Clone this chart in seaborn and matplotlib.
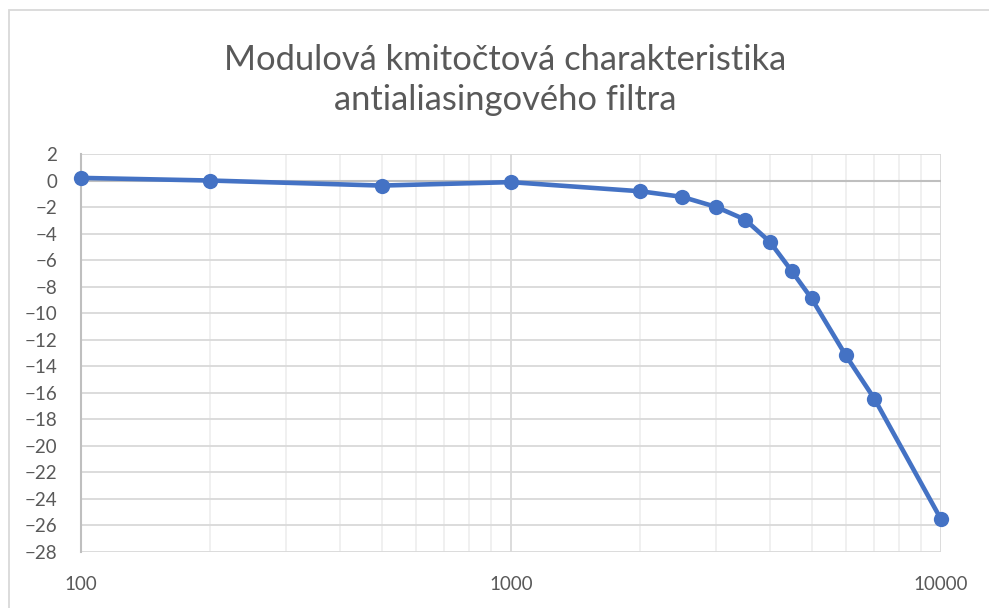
import matplotlib
matplotlib.use("Agg")
import matplotlib.pyplot as plt
import matplotlib.ticker as mticker
from matplotlib.patches import Rectangle
import seaborn as sns
import pandas as pd

# Frequency response of the anti-aliasing filter
frequency_hz = [100, 200, 500, 1000, 2000, 2500, 3000, 3500, 4000, 4500, 5000, 6000, 7000, 10000]
gain_db = [0.2, 0.0, -0.38, -0.12, -0.81, -1.23, -1.99, -2.94, -4.62, -6.84, -8.89, -13.16, -16.45, -25.53]

title_text = "Modulová kmitočtová charakteristika\nantialiasingového filtra"
y_ticks = list(range(-28, 3, 2))
x_ticks = [100, 1000, 10000]

df = pd.DataFrame({"f": frequency_hz, "A": gain_db})

sns.set_theme(style="white")
plt.rcParams["font.family"] = ["Lato", "DejaVu Sans"]

W, H = 989, 608
fig = plt.figure(figsize=(W / 100, H / 100), dpi=100)
left, right, top, bottom = 81, 941, 154, 552
ax = fig.add_axes([left / W, 1 - bottom / H, (right - left) / W, (bottom - top) / H])

# chart frame
fig.patches.append(Rectangle((8.5 / W, -0.1), 1.2, (H - 10) / H + 0.1,
                             transform=fig.transFigure, fill=False,
                             edgecolor="#d9d9d9", linewidth=1.3, zorder=0))

ax.set_xscale("log")
ax.set_xlim(100, 10000)
ax.set_ylim(-28, 2)

# gridlines
ax.set_yticks(y_ticks)
ax.xaxis.set_major_locator(mticker.FixedLocator(x_ticks))
ax.xaxis.set_minor_locator(mticker.LogLocator(base=10, subs=range(2, 10)))
ax.xaxis.set_minor_formatter(mticker.NullFormatter())
ax.grid(which="major", axis="y", color="#d9d9d9", linewidth=1.3, zorder=0)
ax.grid(which="major", axis="x", color="#d9d9d9", linewidth=1.3, zorder=0)
ax.grid(which="minor", axis="x", color="#efefef", linewidth=1.3, zorder=0)
ax.axhline(0, color="#bfbfbf", linewidth=1.5, zorder=1)

for side in ["top", "right", "bottom"]:
    ax.spines[side].set_visible(False)
ax.spines["left"].set_color("#bfbfbf")
ax.spines["left"].set_linewidth(1.5)

sns.lineplot(data=df, x="f", y="A", ax=ax, color="#4472C4", linewidth=3.3,
             marker="o", markersize=11, markeredgewidth=0, zorder=3, clip_on=False)

ax.set_xlabel("")
ax.set_ylabel("")
ax.xaxis.set_major_formatter(mticker.FuncFormatter(lambda v, p: f"{int(v)}"))
ax.tick_params(axis="both", which="both", length=0, labelsize=13.5, labelcolor="#595959")
ax.tick_params(axis="x", pad=17)
ax.tick_params(axis="y", pad=17)

fig.text(505 / W, 1 - 80 / H, title_text, ha="center", va="center", fontsize=24.8,
         color="#595959", linespacing=1.3)

fig.savefig("out.png", dpi=100)
